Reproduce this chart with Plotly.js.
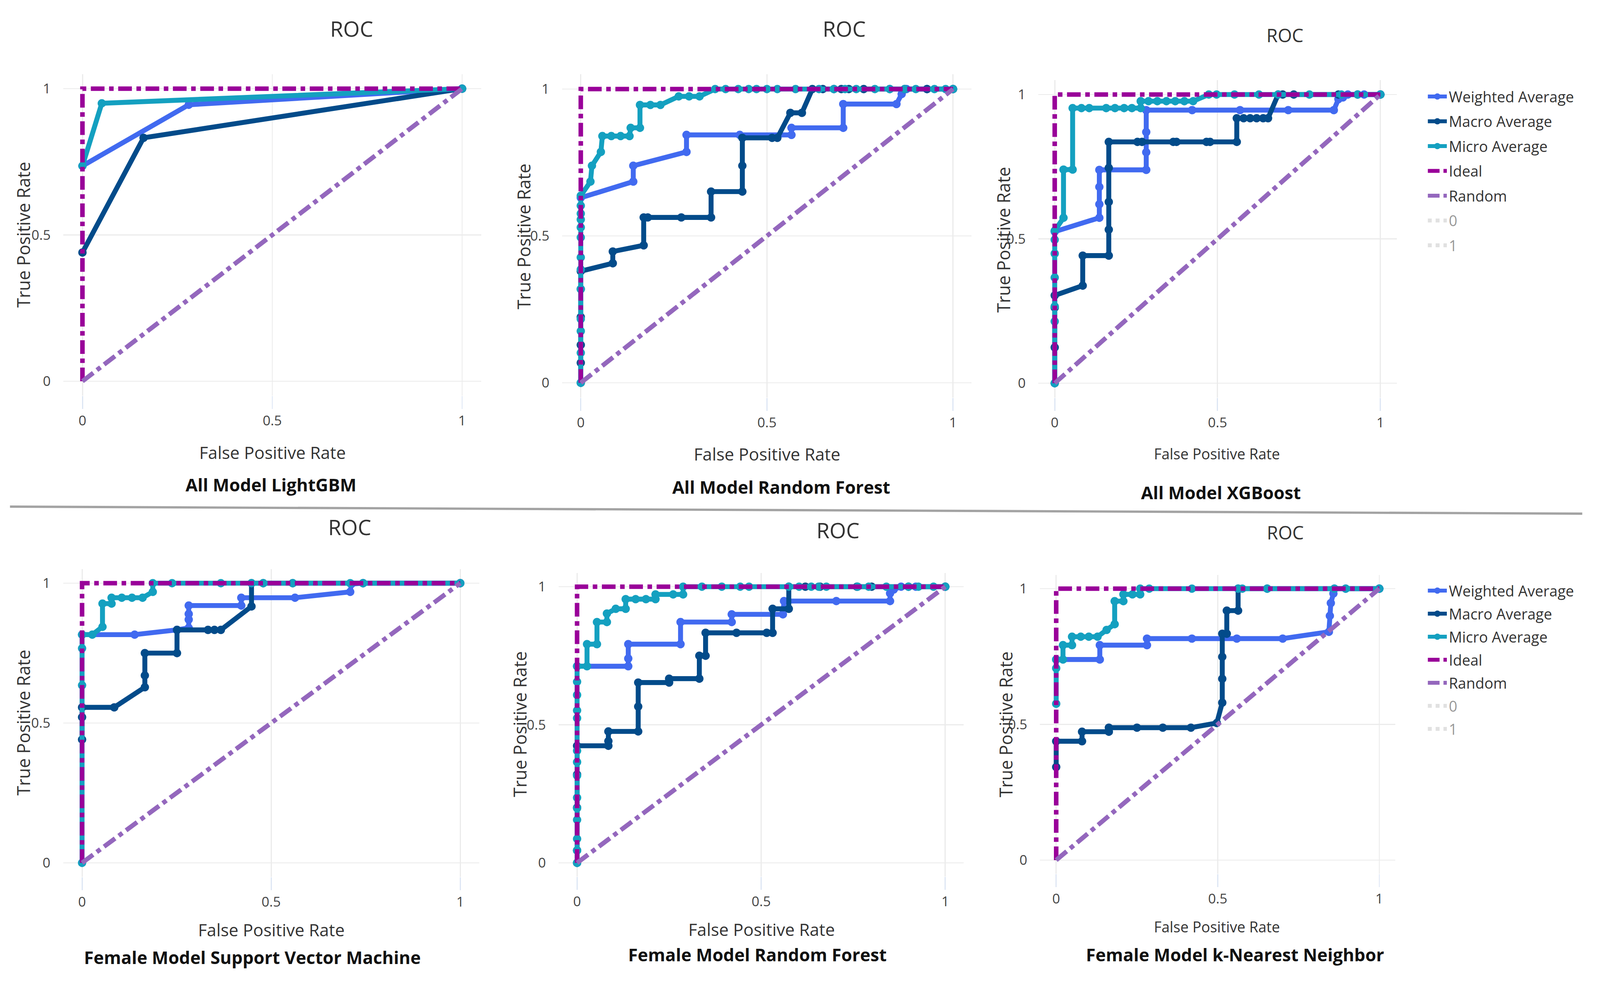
<!DOCTYPE html>
<html>
<head>
<meta charset="utf-8">
<script src="https://cdn.plot.ly/plotly-3.0.1.min.js"></script>
<style>
html,body{margin:0;padding:0;background:#ffffff;overflow:hidden;}
</style>
</head>
<body>
<div id="chart"></div>
<script>
// ---------------- DATA ----------------
const tickVals = [0, 0.5, 1];
const tickText = ['0', '0.5', '1'];
const seriesNames = ['Weighted Average', 'Macro Average', 'Micro Average', 'Ideal', 'Random'];
const hiddenClassNames = ['0', '1'];
const panelTitles = ['All Model LightGBM', 'All Model Random Forest', 'All Model XGBoost',
  'Female Model Support Vector Machine', 'Female Model Random Forest', 'Female Model k-Nearest Neighbor'];

const idealX = [0, 0, 1];
const idealY = [0, 1, 1];
const randomX = [0, 1];
const randomY = [0, 1];

// Panel 1: All Model LightGBM
const lgbmWX = [0, 0.28, 1];
const lgbmWY = [0.736, 0.945, 1];
const lgbmMX = [0, 0.161, 1];
const lgbmMY = [0.44, 0.832, 1];
const lgbmUX = [0, 0.051, 1];
const lgbmUY = [0.736, 0.95, 1];

// Panel 2: All Model Random Forest
const rfWX = [0, 0.141, 0.141, 0.284, 0.284, 0.427, 0.566, 0.566, 0.705, 0.705, 0.848, 0.862, 0.875, 0.93, 1];
const rfWY = [0.63, 0.685, 0.739, 0.786, 0.844, 0.844, 0.844, 0.868, 0.868, 0.949, 0.949, 0.983, 1, 1, 1];
const rfMX = [0, 0, 0, 0, 0, 0, 0.086, 0.086, 0.169, 0.169, 0.18, 0.27, 0.35, 0.35, 0.434, 0.434, 0.434, 0.514, 0.528, 0.563, 0.594, 0.622, 0.65, 0.68, 0.70, 0.72, 0.76, 0.83, 0.87, 0.93, 1];
const rfMY = [0, 0.068, 0.129, 0.224, 0.319, 0.38, 0.407, 0.447, 0.468, 0.563, 0.563, 0.563, 0.563, 0.651, 0.651, 0.739, 0.834, 0.834, 0.834, 0.919, 0.919, 1, 1, 1, 1, 1, 1, 1, 1, 1, 1];
const rfUX = [0, 0, 0, 0, 0, 0, 0, 0, 0, 0, 0, 0, 0, 0.026, 0.030, 0.054, 0.058, 0.082, 0.107, 0.131, 0.134, 0.159, 0.159, 0.187, 0.214, 0.263, 0.291, 0.319, 0.361, 0.389, 0.423, 0.451, 0.472, 0.500, 0.528, 0.577, 0.640, 0.680, 0.710, 0.740, 0.790, 0.830, 0.870, 0.900, 0.950, 0.980, 1];
const rfUY = [0, 0.102, 0.176, 0.217, 0.319, 0.386, 0.427, 0.495, 0.529, 0.556, 0.576, 0.603, 0.637, 0.685, 0.739, 0.786, 0.840, 0.840, 0.840, 0.840, 0.868, 0.868, 0.946, 0.946, 0.946, 0.975, 0.975, 0.975, 1, 1, 1, 1, 1, 1, 1, 1, 1, 1, 1, 1, 1, 1, 1, 1, 1, 1, 1];

// Panel 3: All Model XGBoost
const xgbWX = [0, 0.137, 0.137, 0.137, 0.137, 0.281, 0.281, 0.281, 0.281, 0.422, 0.569, 0.717, 0.857, 0.871, 0.885, 0.9, 0.95, 1];
const xgbWY = [0.525, 0.573, 0.62, 0.68, 0.739, 0.739, 0.80, 0.87, 0.946, 0.946, 0.946, 0.946, 0.946, 0.984, 0.99, 1, 1, 1];
const xgbMX = [0, 0, 0, 0, 0.086, 0.086, 0.166, 0.166, 0.166, 0.166, 0.166, 0.254, 0.268, 0.364, 0.374, 0.466, 0.477, 0.559, 0.559, 0.58, 0.60, 0.62, 0.64, 0.655, 0.686, 0.70, 0.734, 0.871, 0.93, 1];
const xgbMY = [0, 0.124, 0.262, 0.304, 0.338, 0.442, 0.442, 0.532, 0.628, 0.746, 0.836, 0.836, 0.836, 0.836, 0.836, 0.836, 0.836, 0.836, 0.918, 0.918, 0.918, 0.918, 0.918, 0.918, 1, 1, 1, 1, 1, 1];
const xgbUX = [0, 0, 0, 0, 0, 0, 0, 0.027, 0.027, 0.055, 0.055, 0.082, 0.106, 0.158, 0.185, 0.213, 0.237, 0.264, 0.264, 0.288, 0.315, 0.343, 0.370, 0.398, 0.425, 0.473, 0.497, 0.552, 0.627, 0.686, 0.782, 0.880, 0.930, 1];
const xgbUY = [0, 0.214, 0.266, 0.366, 0.449, 0.497, 0.528, 0.573, 0.740, 0.740, 0.953, 0.953, 0.953, 0.953, 0.953, 0.953, 0.953, 0.953, 0.977, 0.977, 0.977, 0.977, 0.977, 0.977, 0.977, 1, 1, 1, 1, 1, 1, 1, 1, 1];

// Panel 4: Female Model Support Vector Machine
const svmWX = [0, 0.139, 0.251, 0.282, 0.282, 0.282, 0.282, 0.421, 0.421, 0.563, 0.709, 0.712, 0.743, 1];
const svmWY = [0.816, 0.816, 0.833, 0.84, 0.87, 0.89, 0.92, 0.92, 0.948, 0.948, 0.969, 0.997, 1, 1];
const svmMX = [0, 0, 0, 0.085, 0.166, 0.166, 0.166, 0.251, 0.251, 0.333, 0.35, 0.367, 0.448, 0.448, 0.479, 0.557, 0.743, 1];
const svmMY = [0.441, 0.521, 0.556, 0.556, 0.628, 0.67, 0.75, 0.75, 0.833, 0.833, 0.833, 0.833, 0.917, 1, 1, 1, 1, 1];
const svmUX = [0, 0, 0, 0, 0.027, 0.054, 0.054, 0.078, 0.078, 0.105, 0.132, 0.16, 0.187, 0.187, 0.238, 0.367, 0.448, 0.479, 0.557, 0.709, 0.743, 1];
const svmUY = [0, 0.635, 0.767, 0.816, 0.816, 0.844, 0.927, 0.927, 0.948, 0.948, 0.948, 0.948, 0.969, 1, 1, 1, 1, 1, 1, 1, 1, 1];

// Panel 5: Female Model Random Forest
const rffWX = [0, 0.139, 0.139, 0.139, 0.281, 0.281, 0.42, 0.42, 0.559, 0.562, 0.704, 0.85, 0.85, 0.86, 0.88, 0.92, 1];
const rffWY = [0.712, 0.712, 0.74, 0.792, 0.792, 0.872, 0.872, 0.9, 0.9, 0.948, 0.948, 0.948, 0.976, 0.99, 1, 1, 1];
const rffMX = [0, 0, 0, 0, 0, 0.085, 0.085, 0.085, 0.166, 0.166, 0.166, 0.25, 0.25, 0.332, 0.332, 0.349, 0.349, 0.433, 0.515, 0.531, 0.531, 0.575, 0.575, 0.62, 0.66, 0.76, 0.8, 0.9, 1];
const rffMY = [0, 0.045, 0.2, 0.32, 0.424, 0.424, 0.441, 0.476, 0.476, 0.566, 0.653, 0.653, 0.667, 0.667, 0.75, 0.75, 0.833, 0.833, 0.833, 0.833, 0.92, 0.92, 1, 1, 1, 1, 1, 1, 1];
const rffUX = [0, 0, 0, 0, 0, 0, 0, 0, 0, 0, 0, 0, 0, 0, 0.027, 0.027, 0.054, 0.054, 0.081, 0.081, 0.105, 0.132, 0.132, 0.159, 0.187, 0.213, 0.213, 0.261, 0.288, 0.288, 0.339, 0.393, 0.443, 0.467, 0.575, 0.603, 0.636, 0.656, 0.677, 0.762, 0.792, 0.84, 0.9, 0.927, 0.968, 1];
const rffUY = [0, 0.045, 0.087, 0.156, 0.198, 0.236, 0.316, 0.365, 0.406, 0.524, 0.552, 0.608, 0.656, 0.712, 0.712, 0.792, 0.792, 0.872, 0.872, 0.903, 0.92, 0.92, 0.955, 0.955, 0.955, 0.955, 0.972, 0.972, 0.972, 1, 1, 1, 1, 1, 1, 1, 1, 1, 1, 1, 1, 1, 1, 1, 1, 1];

// Panel 6: Female Model k-Nearest Neighbor
const knnWX = [0, 0.135, 0.135, 0.281, 0.281, 0.42, 0.559, 0.701, 0.844, 0.847, 0.85, 0.858, 0.861, 0.896, 1];
const knnWY = [0.739, 0.739, 0.792, 0.792, 0.816, 0.816, 0.816, 0.816, 0.841, 0.9, 0.947, 0.982, 1, 1, 1];
const knnMX = [0, 0, 0.08, 0.08, 0.163, 0.163, 0.25, 0.33, 0.417, 0.497, 0.514, 0.514, 0.514, 0.514, 0.528, 0.528, 0.563, 0.563, 0.653, 1];
const knnMY = [0.343, 0.438, 0.438, 0.473, 0.473, 0.488, 0.488, 0.488, 0.488, 0.505, 0.58, 0.668, 0.749, 0.834, 0.834, 0.919, 0.919, 1, 1, 1];
const knnUX = [0, 0, 0, 0.021, 0.021, 0.049, 0.049, 0.076, 0.101, 0.128, 0.156, 0.181, 0.181, 0.208, 0.208, 0.236, 0.26, 0.26, 0.288, 0.42, 0.563, 0.576, 0.653, 0.861, 0.896, 1];
const knnUY = [0.576, 0.707, 0.739, 0.739, 0.792, 0.792, 0.823, 0.823, 0.823, 0.823, 0.848, 0.869, 0.954, 0.954, 0.979, 0.979, 0.979, 1, 1, 1, 1, 1, 1, 1, 1, 1];

// hidden per-class curves (legend-only, not drawn)
const hiddenX = [null];
const hiddenY = [null];

// ---------------- STYLE / LAYOUT ----------------
const W = 4328, H = 2514;                      // reference frame (px)
const VW = window.innerWidth || W;
const VH = window.innerHeight || H;
const kx = VW / W, ky = VH / H;                // reference px -> css px
const fs = Math.sqrt(kx * ky);                 // size scale for fonts / strokes
const FONT = 'Open Sans, Noto Sans, sans-serif';
const colors = ['#416af0', '#024b8a', '#14a0c0', '#990099', '#9467bd'];
const hiddenColor = '#c4c4c4';

// reference-pixel geometry of each panel: positions of x=0, x=1, y=1, y=0
const geom = [
  {x0: 223, x1: 1250, y1: 227, y0: 976},
  {x0: 1571, x1: 2578, y1: 228, y0: 980},
  {x0: 2853, x1: 3734, y1: 242, y0: 981},
  {x0: 222, x1: 1245, y1: 1493, y0: 2209},
  {x0: 1561, x1: 2557, y1: 1502, y0: 2209},
  {x0: 2857, x1: 3731, y1: 1507, y0: 2202}
];
// reference-pixel text centres: ROC title, y-title, x-title, panel caption
const textPos = [
  {roc: [951, 73], ty: [62, 601], tx: [737, 1158], cap: [733, 1240], s: 1},
  {roc: [2283, 73], ty: [1417, 605], tx: [2075, 1162], cap: [2113, 1246], s: 1},
  {roc: [3476, 90], ty: [2714, 614], tx: [3292, 1161], cap: [3303, 1260], s: 0.86},
  {roc: [946, 1349], ty: [62, 1850], tx: [734, 2380], cap: [683, 2450], s: 1},
  {roc: [2267, 1357], ty: [1405, 1854], tx: [2060, 2379], cap: [2049, 2443], s: 1},
  {roc: [3477, 1363], ty: [2720, 1854], tx: [3292, 2372], cap: [3341, 2443], s: 0.86}
];

const panelSeries = [
  [[lgbmWX, lgbmWY], [lgbmMX, lgbmMY], [lgbmUX, lgbmUY]],
  [[rfWX, rfWY], [rfMX, rfMY], [rfUX, rfUY]],
  [[xgbWX, xgbWY], [xgbMX, xgbMY], [xgbUX, xgbUY]],
  [[svmWX, svmWY], [svmMX, svmMY], [svmUX, svmUY]],
  [[rffWX, rffWY], [rffMX, rffMY], [rffUX, rffUY]],
  [[knnWX, knnWY], [knnMX, knnMY], [knnUX, knnUY]]
];

// legend geometry
const legFont = 39 * fs;
const legItemW = Math.max(30, 50 * fs);
const legItemH = legFont * 1.3 + 3;
const legTextLeft = 3919 * kx;
const legLeft = (legTextLeft - (legItemW + 10)) / VW;
function legendTop(firstCenterRef) { return 1 - (firstCenterRef * ky - legItemH / 2 - 5) / VH; }

const traces = [];
const layout = {
  width: VW, height: VH, autosize: false,
  margin: {l: 0, r: 0, t: 0, b: 0, pad: 0},
  paper_bgcolor: '#ffffff', plot_bgcolor: '#ffffff',
  font: {family: FONT, color: '#333333'},
  showlegend: true,
  annotations: [],
  shapes: [{
    type: 'line', xref: 'paper', yref: 'paper',
    x0: 27 / W, x1: 4280 / W, y0: 1 - 1297 / H, y1: 1 - 1315 / H,
    line: {color: '#a3a3a3', width: 6 * fs}
  }],
  legend: {
    x: legLeft, xanchor: 'left', y: legendTop(247), yanchor: 'top',
    font: {size: legFont, color: '#333333', family: FONT},
    itemwidth: legItemW, traceorder: 'grouped',
    tracegroupgap: Math.max(0, 63.5 * ky - legItemH),
    bgcolor: 'rgba(255,255,255,0)', borderwidth: 0
  },
  legend2: {
    x: legLeft, xanchor: 'left', y: legendTop(1512), yanchor: 'top',
    font: {size: legFont, color: '#333333', family: FONT},
    itemwidth: legItemW, traceorder: 'grouped',
    tracegroupgap: Math.max(0, 59 * ky - legItemH),
    bgcolor: 'rgba(255,255,255,0)', borderwidth: 0
  }
};

function ann(text, px, py, size, opts) {
  return Object.assign({
    text: text, x: px / W, y: 1 - py / H, xref: 'paper', yref: 'paper',
    xanchor: 'center', yanchor: 'middle', showarrow: false,
    font: {size: size * fs, family: FONT, color: '#333333'}
  }, opts || {});
}

for (let i = 0; i < 6; i++) {
  const s = i === 0 ? '' : String(i + 1);
  const g = geom[i];
  const ux = g.x1 - g.x0, uy = g.y0 - g.y1;
  const xl = g.x0 - 0.05 * ux, xr = g.x1 + 0.05 * ux;
  const yt = g.y1 - 0.05 * uy, yb = g.y0 + 0.05 * uy;
  const tp = textPos[i];
  layout['xaxis' + s] = {
    domain: [xl / W, xr / W], range: [-0.05, 1.05], anchor: 'y' + s,
    tickmode: 'array', tickvals: tickVals, ticktext: tickText,
    showgrid: true, gridcolor: '#ebebeb', gridwidth: 3 * fs,
    zeroline: false, showline: false,
    ticks: 'outside', ticklen: 33 * ky, tickwidth: 3 * fs, tickcolor: '#dde6f4',
    tickfont: {size: 36 * fs, color: '#444444', family: FONT},
    fixedrange: true
  };
  layout['yaxis' + s] = {
    domain: [1 - yb / H, 1 - yt / H], range: [-0.05, 1.05], anchor: 'x' + s,
    tickmode: 'array', tickvals: tickVals, ticktext: tickText,
    showgrid: true, gridcolor: '#ebebeb', gridwidth: 3 * fs,
    zeroline: false, showline: false,
    ticks: 'outside', ticklen: 26 * kx, tickwidth: 1, tickcolor: 'rgba(255,255,255,0)',
    tickfont: {size: 36 * fs, color: '#444444', family: FONT},
    fixedrange: true
  };

  const legendRef = i === 2 ? 'legend' : (i === 5 ? 'legend2' : null);
  const groupPrefix = i === 2 ? 'a' : 'b';
  const series = panelSeries[i];
  for (let j = 0; j < 3; j++) {
    traces.push({
      type: 'scatter', mode: 'lines+markers',
      x: series[j][0], y: series[j][1], name: seriesNames[j],
      xaxis: 'x' + s, yaxis: 'y' + s,
      line: {color: colors[j], width: 13 * fs},
      marker: {color: colors[j], size: 22 * fs, symbol: 'circle'},
      showlegend: legendRef !== null,
      legend: legendRef || 'legend', legendgroup: groupPrefix + j,
      hoverinfo: 'skip'
    });
  }
  traces.push({
    type: 'scatter', mode: 'lines', x: idealX, y: idealY, name: seriesNames[3],
    xaxis: 'x' + s, yaxis: 'y' + s,
    line: {color: colors[3], width: 12 * fs, dash: 'dashdot'},
    showlegend: legendRef !== null, legend: legendRef || 'legend', legendgroup: groupPrefix + 3,
    hoverinfo: 'skip'
  });
  traces.push({
    type: 'scatter', mode: 'lines', x: randomX, y: randomY, name: seriesNames[4],
    xaxis: 'x' + s, yaxis: 'y' + s,
    line: {color: colors[4], width: 12 * fs, dash: 'dashdot'},
    showlegend: legendRef !== null, legend: legendRef || 'legend', legendgroup: groupPrefix + 4,
    hoverinfo: 'skip'
  });
  if (legendRef) {
    hiddenClassNames.forEach(function (nm, j) {
      traces.push({
        type: 'scatter', mode: 'lines', x: hiddenX, y: hiddenY, name: nm,
        xaxis: 'x' + s, yaxis: 'y' + s, visible: 'legendonly',
        line: {color: hiddenColor, width: 11 * fs, dash: 'dot'},
        showlegend: true, legend: legendRef, legendgroup: groupPrefix + (5 + j)
      });
    });
  }

  layout.annotations.push(ann('ROC', tp.roc[0], tp.roc[1], 56 * tp.s));
  layout.annotations.push(ann('True Positive Rate', tp.ty[0], tp.ty[1], 46, {textangle: -90}));
  layout.annotations.push(ann('False Positive Rate', tp.tx[0], tp.tx[1], 45 * tp.s));
  layout.annotations.push(ann('<b>' + panelTitles[i] + '</b>', tp.cap[0], tp.cap[1], 46,
    {font: {size: 46 * fs, family: FONT, color: '#111111'}}));
}

document.getElementById('chart').style.width = VW + 'px';
document.getElementById('chart').style.height = VH + 'px';
Plotly.newPlot('chart', traces, layout, {displayModeBar: false, staticPlot: true});
</script>
</body>
</html>
